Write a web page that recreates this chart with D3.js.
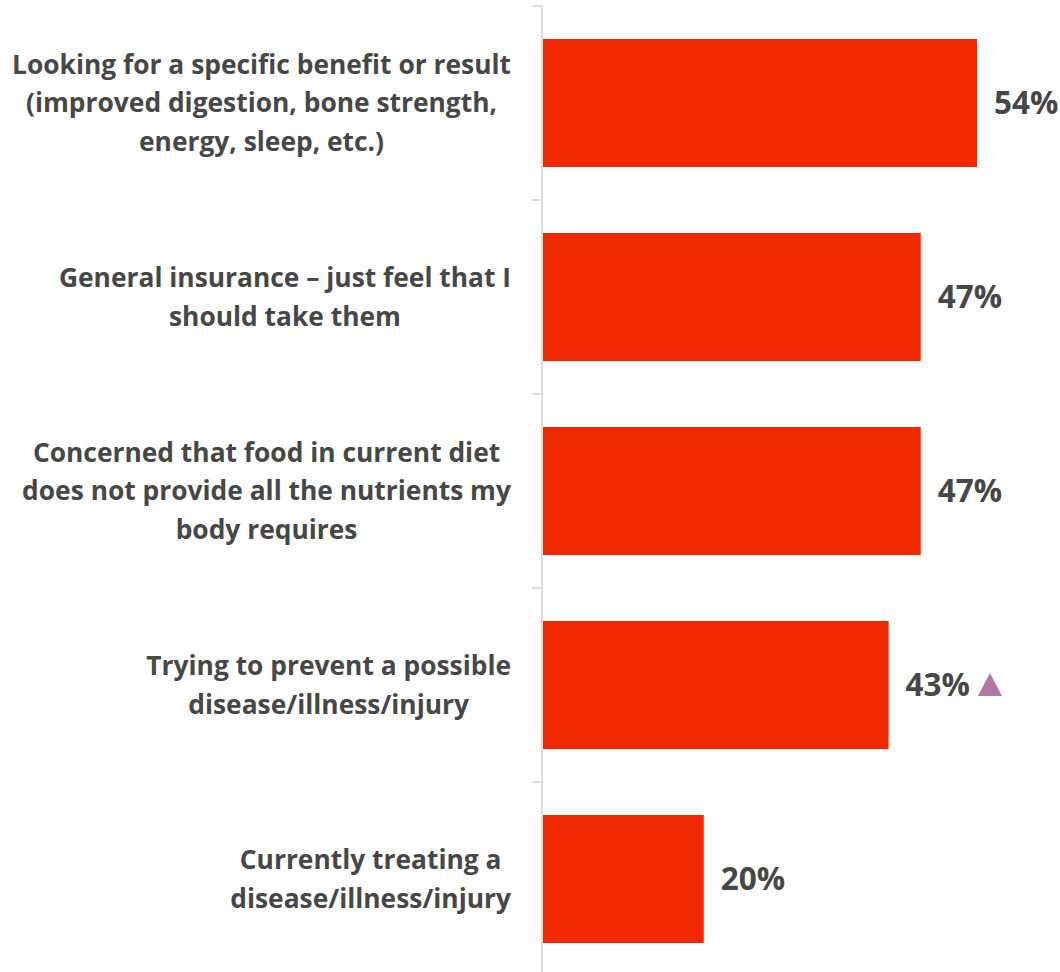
<!DOCTYPE html>
<html>
<head>
<meta charset="utf-8">
<script src="https://cdn.jsdelivr.net/npm/d3@7.9.0/dist/d3.min.js"></script>
<style>
  body { margin: 0; background: #fff; }
  svg text { font-family: "Open Sans", Lato, sans-serif; font-weight: bold; }
</style>
</head>
<body>
<svg id="chart" width="1060" height="972"></svg>
<script>
// Reasons for taking supplements
const categories = [
  ['Looking for a specific benefit or result', '(improved digestion, bone strength,', 'energy, sleep, etc.)'],
  ['General insurance \u2013 just feel that I', 'should take them'],
  ['Concerned that food in current diet', 'does not provide all the nutrients my', 'body requires'],
  ['Trying to prevent a possible', 'disease/illness/injury'],
  ['Currently treating a', 'disease/illness/injury']
];
const values = [54, 47, 47, 43, 20];
const flagged = [false, false, false, true, false]; // significant increase marker

const svg = d3.select('#chart');

const x = d3.scaleLinear().domain([0, 54]).range([543, 977]);
const y = d3.scaleBand()
  .domain(d3.range(values.length))
  .range([6, 976])
  .paddingInner(0.34)
  .paddingOuter(0.17);

// axis line with ticks between categories
const axis = svg.append('g');
axis.append('line')
  .attr('x1', 542).attr('x2', 542)
  .attr('y1', 6).attr('y2', 972)
  .attr('stroke', '#dedede').attr('stroke-width', 2);
d3.range(values.length).forEach(i => {
  const ty = y(i) - y.step() * y.paddingOuter();
  axis.append('line')
    .attr('x1', 532).attr('x2', 542)
    .attr('y1', ty).attr('y2', ty)
    .attr('stroke', '#dedede').attr('stroke-width', 2);
});

// bars
svg.selectAll('rect.bar')
  .data(values)
  .join('rect')
  .attr('class', 'bar')
  .attr('x', x(0))
  .attr('y', (d, i) => y(i))
  .attr('width', d => x(d) - x(0))
  .attr('height', y.bandwidth())
  .attr('fill', '#f02800');

// category labels: each block centred, block right edge at 511
const lineH = 38.5;
const labelRight = 511;
let fontSize = 22;
// fit longest line to the width seen in the reference (~499px)
const probe = svg.append('text').attr('font-size', fontSize).text(categories[0][0]);
fontSize = fontSize * 499 / probe.node().getComputedTextLength();
probe.remove();

categories.forEach((lines, i) => {
  const cy = y(i) + y.bandwidth() / 2;
  const t = svg.append('text')
    .attr('text-anchor', 'middle')
    .attr('fill', '#474747')
    .attr('font-size', fontSize);
  const spans = lines.map((ln, j) => t.append('tspan')
    .attr('y', cy + (j - (lines.length - 1) / 2) * lineH)
    .attr('dy', '0.36em')
    .text(ln));
  const maxW = d3.max(spans, s => s.node().getComputedTextLength());
  spans.forEach(s => s.attr('x', labelRight - maxW / 2));
});

// value labels
values.forEach((v, i) => {
  const cy = y(i) + y.bandwidth() / 2;
  const t = svg.append('text')
    .attr('x', x(v) + 17)
    .attr('y', cy)
    .attr('dy', '0.36em')
    .attr('fill', '#474747')
    .attr('font-size', 31.5)
    .text(v + '%');
  if (flagged[i]) {
    const w = t.node().getComputedTextLength();
    const tx = x(v) + 17 + w + 8;
    svg.append('path')
      .attr('d', `M${tx},${cy + 11}L${tx + 24},${cy + 11}L${tx + 12},${cy - 12}Z`)
      .attr('fill', '#b277a6');
  }
});
</script>
</body>
</html>
